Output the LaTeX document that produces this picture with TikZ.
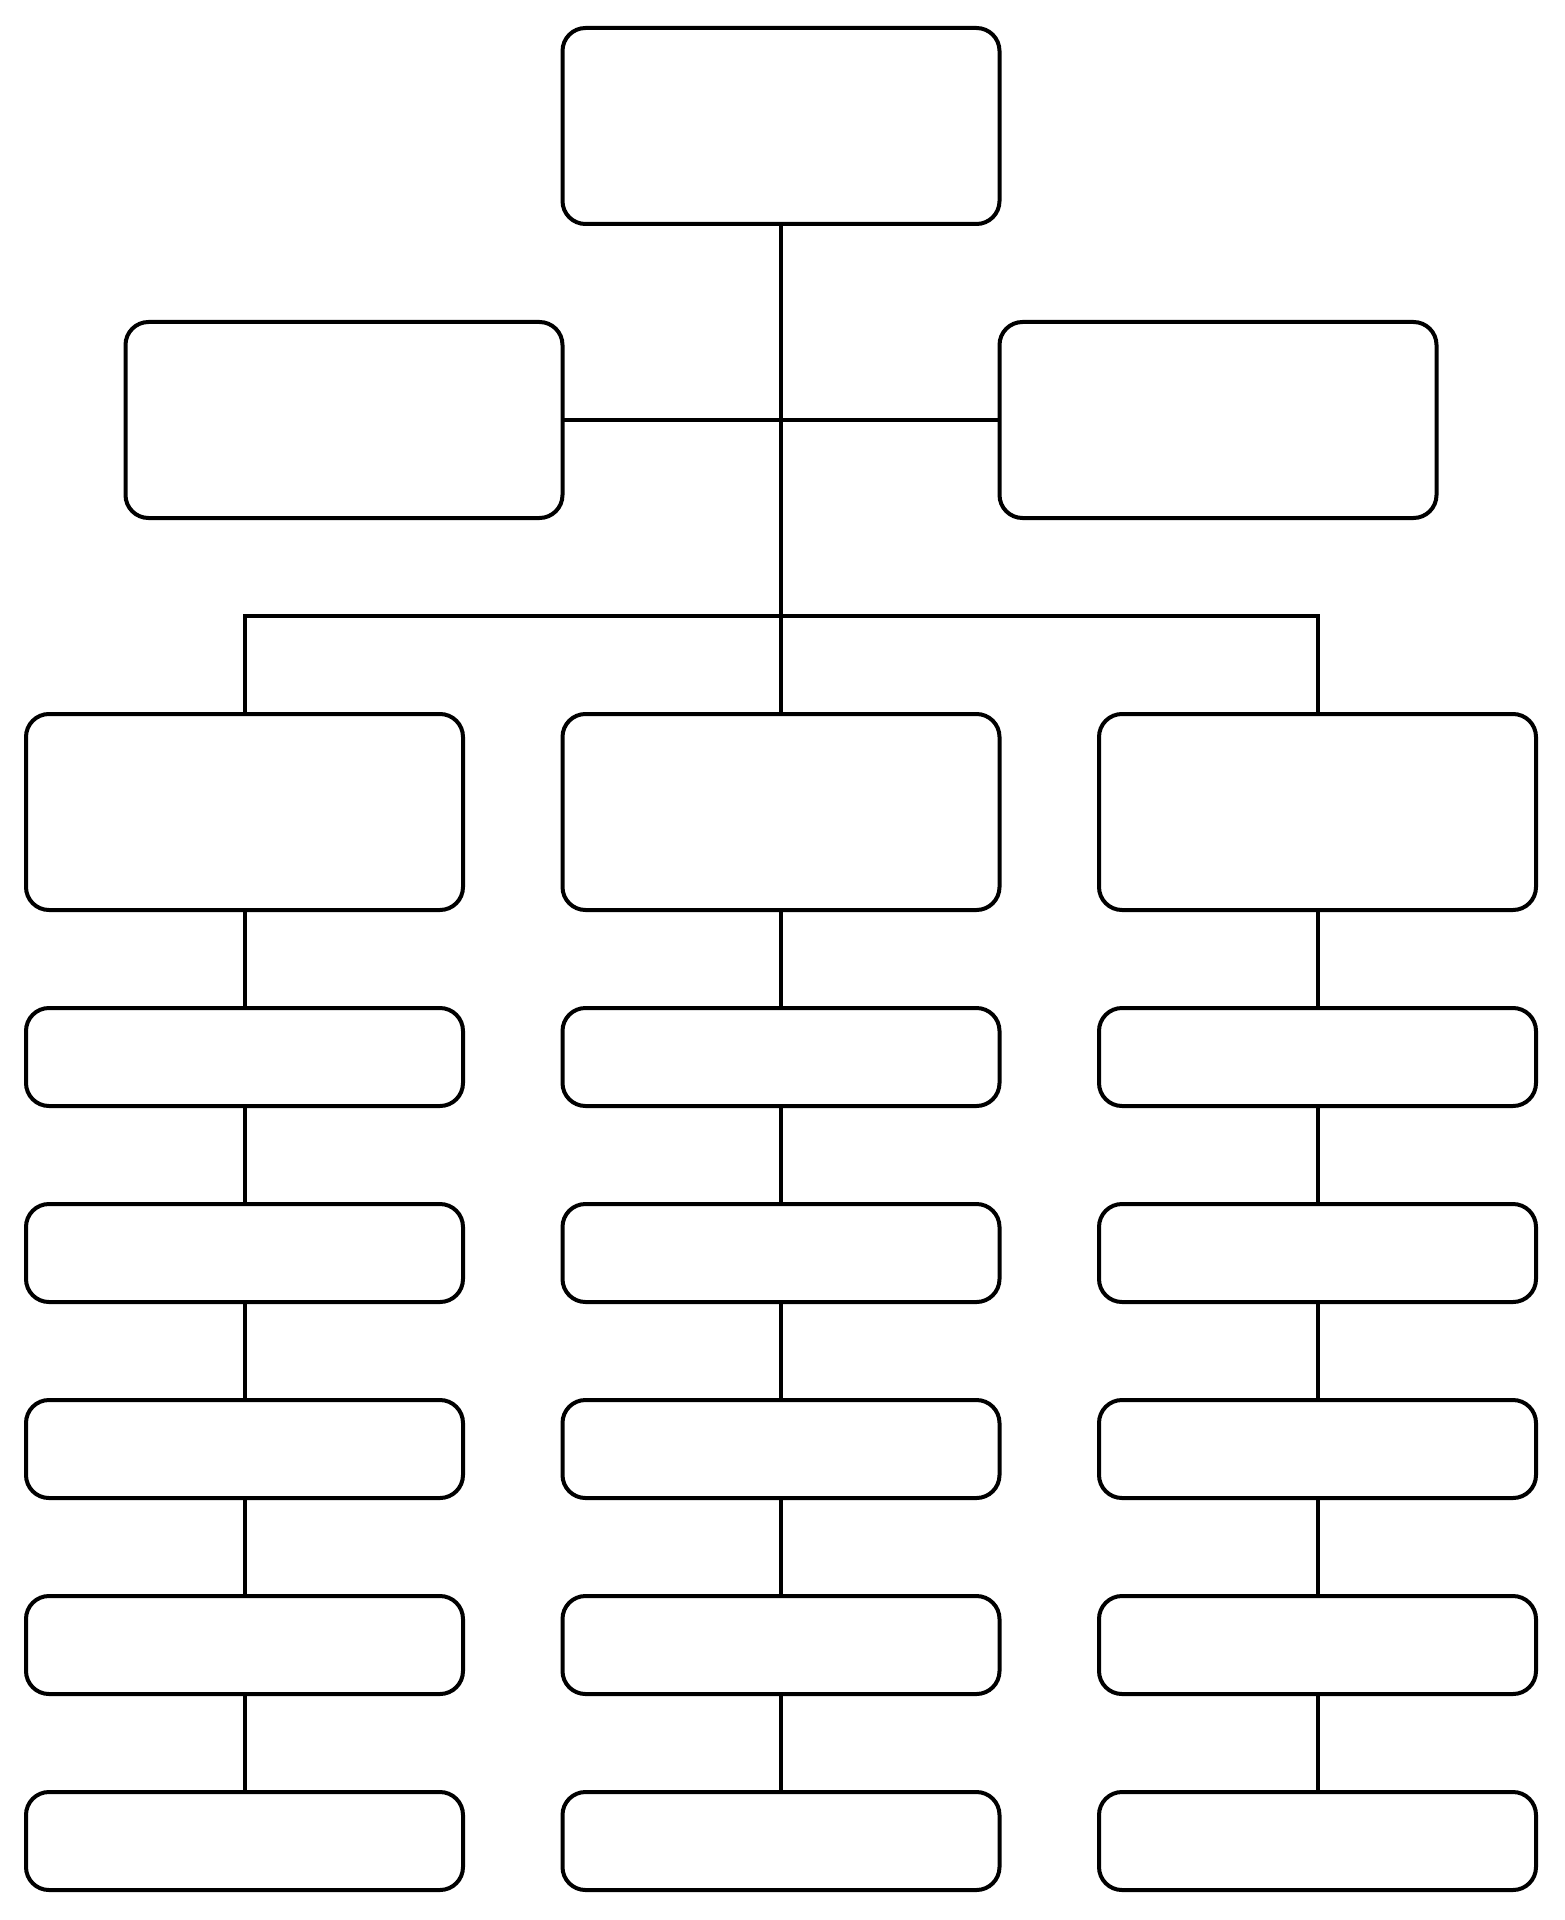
\documentclass[tikz,border=0pt]{standalone}
\begin{document}
\begin{tikzpicture}[x=0.5pt,y=-0.5pt,
  box/.style={draw=black,line width=2pt,rounded corners=11.5pt,fill=white,
    minimum width=218.5pt,minimum height=98pt,inner sep=0pt,outer sep=0pt},
  sbox/.style={box,minimum height=49pt},
  conn/.style={draw=black,line width=2pt}]
\useasboundingbox (0,0) rectangle (1564,1920);
\def\cL{244.5}\def\cM{781}\def\cR{1317.5}
% top and second row
\node[box] (top) at (\cM,126) {};
\node[box] (l2) at (\cM-437,420) {};
\node[box] (r2) at (\cM+437,420) {};
% third row
\node[box] (l3) at (\cL,812) {};
\node[box] (m3) at (\cM,812) {};
\node[box] (r3) at (\cR,812) {};
% small rows
\foreach \i/\y in {1/1057,2/1253,3/1449,4/1645,5/1841}{
  \node[sbox] (la\i) at (\cL,\y) {};
  \node[sbox] (ma\i) at (\cM,\y) {};
  \node[sbox] (ra\i) at (\cR,\y) {};
}
\coordinate (br) at (\cM,616);
% connectors
\draw[conn] (top.south) -- (m3.north);
\draw[conn] (l2.east) -- (r2.west);
\draw[conn] (l3.north) |- (br) -| (r3.north);
\foreach \c in {l,m,r}{
  \draw[conn] (\c3.south) -- (\c a1.north);
  \draw[conn] (\c a1.south) -- (\c a2.north);
  \draw[conn] (\c a2.south) -- (\c a3.north);
  \draw[conn] (\c a3.south) -- (\c a4.north);
  \draw[conn] (\c a4.south) -- (\c a5.north);
}
\end{tikzpicture}
\end{document}
